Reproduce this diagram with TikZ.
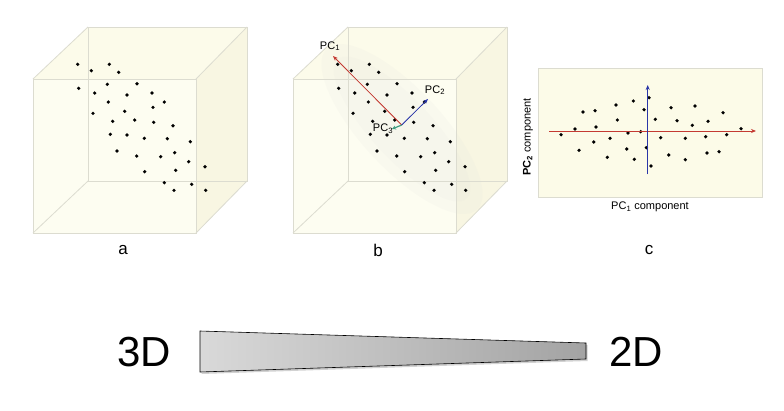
\documentclass[tikz,border=0pt]{standalone}
\usepackage{fontspec}
\setmainfont{Liberation Sans}
\usetikzlibrary{arrows.meta,shadows}
\definecolor{cubeA}{HTML}{FDFDF1}
\definecolor{cubeTop}{HTML}{FCFBEA}
\definecolor{cubeSide}{HTML}{F8F6E2}
\definecolor{cubeEdge}{HTML}{DCDCD0}
\definecolor{pcred}{HTML}{C43A32}
\definecolor{pcblue}{HTML}{2A36A8}
\definecolor{pcgreen}{HTML}{3E9C80}
\definecolor{plotbg}{HTML}{FCFBE8}
\tikzset{
  dot/.style={fill=black,draw=none},
  edge/.style={draw=cubeEdge,line width=0.8pt},
  lbl/.style={font=\fontsize{17}{17}\selectfont,inner sep=0pt},
  pclbl/.style={font=\fontsize{11}{12}\selectfont,inner sep=0pt},
  big/.style={font=\fontsize{42}{42}\selectfont,inner sep=0pt},
  axarrow/.style={line width=0.8pt,-{Stealth[length=5pt,width=4pt]}}
}
\newcommand\mycube{%
  \fill[cubeA] (33,79) -- (88,27) -- (247,27) -- (247,181) -- (196,233) -- (33,233) -- cycle;
  \fill[cubeTop] (33,79) -- (88,27) -- (247,27) -- (196,79) -- cycle;
  \fill[cubeSide] (196,79) -- (247,27) -- (247,181) -- (196,233) -- cycle;
}
\newcommand\mycubeedges{%
  \draw[edge] (88,27) rectangle (247,181);
  \draw[edge] (33,79) rectangle (196,233);
  \draw[edge] (33,79) -- (88,27) (196,79) -- (247,27) (196,233) -- (247,181) (33,233) -- (88,181);
}
\newcommand\mycubedots{%
  \foreach \p in {(77.7,64.3),(91.3,70.7),(109.3,64.3),(118.7,72.3),(78.7,88.3),(94.7,93),
    (107.3,84.3),(137,83.7),(127,95),(152,93),(108.3,102),(164.3,102),(153,107.3),(93,113.3),
    (124.7,111.3),(112.7,121.3),(134.7,120),(153.7,122.3),(173,125.7),(110.3,134.3),(127,135),
    (144.3,138.3),(167.3,138.7),(190.3,141.7),(117,151),(136.7,156),(160.7,156.7),(174.7,152.7),
    (188.7,161.7),(205,166.7),(144.7,171.7),(175.7,170.3),(164.3,182.7),(191.7,184.3),
    (174,190.3),(205.7,190.3)}
    \fill[dot] \p circle (1.8);
}
\begin{document}
\begin{tikzpicture}[x=1pt,y=-1pt]
\useasboundingbox (0,0) rectangle (784,410);
\fill[white] (0,0) rectangle (784,410);
% cube a
\mycube
\mycubeedges
\mycubedots
\node[lbl] (la) at (123,250) {a};
% cube b
\begin{scope}[shift={(260,0)}]
\mycube
\fill[gray!30,opacity=0.10] (142,129) ellipse [x radius=110, y radius=40, rotate=-47];
\fill[gray!30,opacity=0.08] (142,129) ellipse [x radius=95, y radius=30, rotate=-47];
\mycubeedges
\mycubedots
\end{scope}
\coordinate (ctr) at (401.7,125);
\coordinate (pc1tip) at (333,56);
\coordinate (pc2tip) at (428,99);
\coordinate (pc3tip) at (392,129);
\draw[axarrow,draw=pcred,fill=pcred] (ctr) -- (pc1tip);
\draw[axarrow,draw=pcblue,fill=pcblue] (ctr) -- (pc2tip);
\draw[line width=1.2pt,draw=pcgreen,-{Stealth[length=4pt,width=4pt]}] (ctr) -- (pc3tip);
\node[pclbl] (l1) at (330,46) {PC\textsubscript{1}};
\node[pclbl] (l2) at (435,90) {PC\textsubscript{2}};
\node[pclbl] (l3) at (383,129) {PC\textsubscript{3}};
\node[lbl] (lb) at (378,250) {b};
% panel c
\filldraw[fill=plotbg,draw=cubeEdge,line width=0.8pt] (538,68) rectangle (762,197);
\foreach \p in {(561,134.7),(575,129),(579,150.3),(583,112),(595,110.7),(596,127),(593.7,142),
  (607.3,157.3),(610,138.3),(616,105),(617.3,120),(626.7,149),(628,133),(633.3,101),(634.3,159.3),
  (640.7,131.7),(644,109.7),(646.3,147.7),(649,97.7),(651,166),(655.3,119.3),(660.7,137.7),
  (668.7,155),(671,107.7),(677,120.7),(685.3,138.3),(685.3,159.7),(692.3,125.3),(695,106),
  (705.7,136.7),(707,153),(708,121.3),(719,151.7),(723,112.7),(726.7,134.7),(741,128.7)}
  \fill[dot] \p circle (1.8);
\coordinate (hx0) at (549,131);
\coordinate (hx1) at (756,131);
\coordinate (vy0) at (647.7,174);
\coordinate (vy1) at (647.7,85);
\draw[axarrow,draw=pcred,fill=pcred] (hx0) -- (hx1);
\draw[axarrow,draw=pcblue,fill=pcblue] (vy0) -- (vy1);
\node[pclbl] (xl) at (650,207) {PC\textsubscript{1}\ component};
\node[pclbl,rotate=90] (yl) at (528,137) {\textbf{PC\textsubscript{2}}\ component};
\node[lbl] (lc) at (649,250) {c};
% wedge
\coordinate (w1) at (200,331);
\coordinate (w2) at (586,343);
\coordinate (w3) at (586,359);
\coordinate (w4) at (200,372);
\shade[left color=gray!30,right color=gray!72,draw=black,line width=0.6pt,
  drop shadow={opacity=0.35,shadow xshift=1.5pt,shadow yshift=-2pt}]
  (w1) -- (w2) -- (w3) -- (w4) -- cycle;
\node[big,anchor=base] (t3) at (144,366.7) {3D};
\node[big,anchor=base] (t2) at (636.3,366.7) {2D};
\end{tikzpicture}
\end{document}
